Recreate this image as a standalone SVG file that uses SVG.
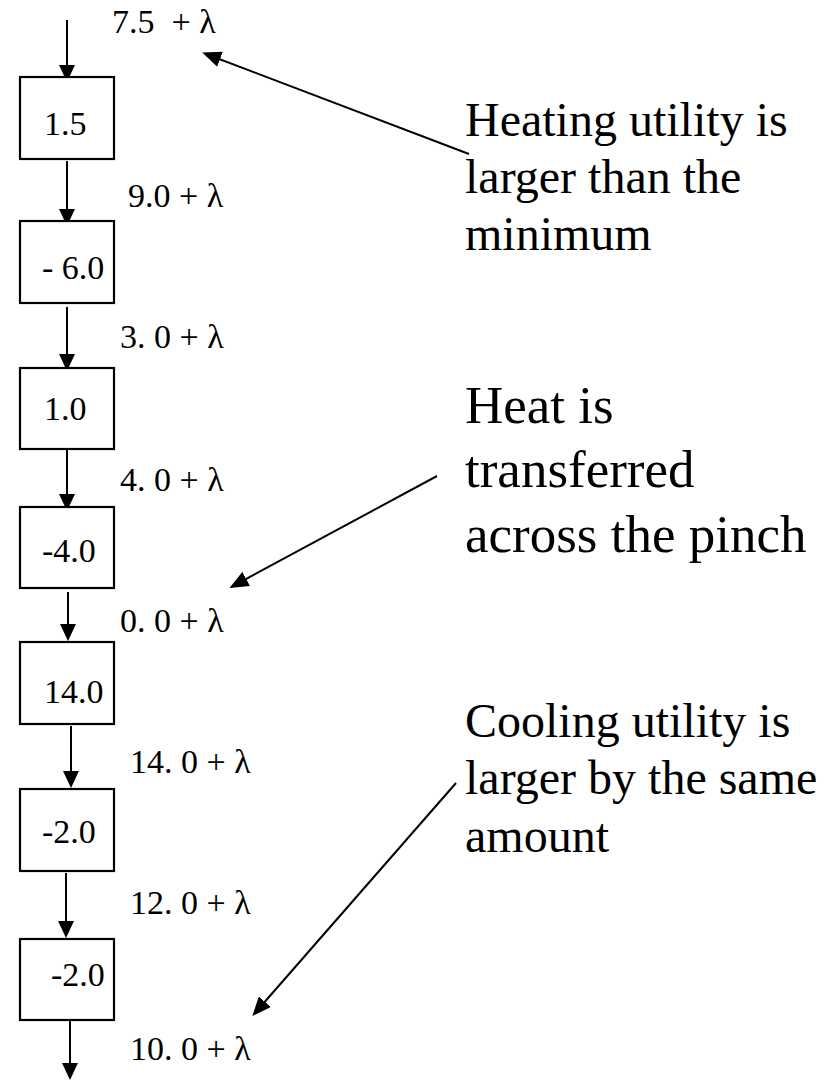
<svg xmlns="http://www.w3.org/2000/svg" width="838" height="1080" viewBox="0 0 838 1080">
<style>
  .box { fill: #fff; stroke: #000; stroke-width: 2.2; }
  .nt { font-family: "Liberation Serif", "Times New Roman", serif; font-size: 34px; fill: #000; white-space: pre; }
  .big { font-family: "Liberation Serif", "Times New Roman", serif; font-size: 48px; fill: #000; }
  .big2 { font-family: "Liberation Serif", "Times New Roman", serif; font-size: 53px; fill: #000; }
  .flow { stroke: #000; stroke-width: 2; fill: none; marker-end: url(#ah); }
  .ptr { stroke: #000; stroke-width: 2; fill: none; marker-end: url(#ah2); }
</style>
<defs>
  <marker id="ah" markerUnits="userSpaceOnUse" markerWidth="17" markerHeight="16" refX="13" refY="8" orient="auto" viewBox="0 0 17 16">
    <path d="M0,0 L17,8 L0,16 z" fill="#000"/>
  </marker>
  <marker id="ah2" markerUnits="userSpaceOnUse" markerWidth="19" markerHeight="16" refX="15" refY="8" orient="auto" viewBox="0 0 19 16">
    <path d="M0,0 L19,8 L0,16 z" fill="#000"/>
  </marker>
</defs>
<rect width="838" height="1080" fill="#fff"/>

<g id="connectors">
  <line class="flow" x1="67" y1="20" x2="67" y2="78"/>
  <line class="flow" x1="67" y1="161" x2="67" y2="222"/>
  <line class="flow" x1="67" y1="307" x2="67" y2="367"/>
  <line class="flow" x1="67" y1="450" x2="67" y2="507"/>
  <line class="flow" x1="68" y1="592" x2="68" y2="637"/>
  <line class="flow" x1="71" y1="726" x2="71" y2="784"/>
  <line class="flow" x1="66" y1="873" x2="66" y2="934"/>
  <line class="flow" x1="70" y1="1021" x2="70" y2="1076"/>
  <line class="ptr" x1="469" y1="154" x2="206" y2="54"/>
  <line class="ptr" x1="437" y1="476" x2="233" y2="586"/>
  <line class="ptr" x1="456" y1="783" x2="255" y2="1013"/>
</g>

<g id="n1"><rect class="box" x="20" y="77" width="94" height="82"/><text class="nt" x="44" y="135">1.5</text></g>
<g id="n2"><rect class="box" x="20" y="221" width="94" height="82"/><text class="nt" x="42" y="279">- 6.0</text></g>
<g id="n3"><rect class="box" x="20" y="368" width="94" height="81"/><text class="nt" x="44" y="420">1.0</text></g>
<g id="n4"><rect class="box" x="20" y="507" width="94" height="81"/><text class="nt" x="42" y="562">-4.0</text></g>
<g id="n5"><rect class="box" x="20" y="642" width="94" height="82"/><text class="nt" x="44" y="703">14.0</text></g>
<g id="n6"><rect class="box" x="20" y="789" width="94" height="82"/><text class="nt" x="42" y="843">-2.0</text></g>
<g id="n7"><rect class="box" x="20" y="939" width="94" height="81"/><text class="nt" x="51" y="986">-2.0</text></g>

<g id="flow-labels">
  <text class="nt" x="112" y="33">7.5  + λ</text>
  <text class="nt" x="128" y="207">9.0 + λ</text>
  <text class="nt" x="120" y="348">3. 0 + λ</text>
  <text class="nt" x="120" y="491">4. 0 + λ</text>
  <text class="nt" x="120" y="632">0. 0 + λ</text>
  <text class="nt" x="130" y="773">14. 0 + λ</text>
  <text class="nt" x="130" y="914">12. 0 + λ</text>
  <text class="nt" x="130" y="1060">10. 0 + λ</text>
</g>

<g id="note-heating">
  <text class="big" x="465" y="136">Heating utility is</text>
  <text class="big" x="465" y="193">larger than the</text>
  <text class="big" x="465" y="250">minimum</text>
</g>
<g id="note-pinch">
  <text class="big2" x="465" y="423">Heat is</text>
  <text class="big2" x="465" y="487">transferred</text>
  <text class="big2" x="465" y="552">across the pinch</text>
</g>
<g id="note-cooling">
  <text class="big" x="465" y="737">Cooling utility is</text>
  <text class="big" x="465" y="794">larger by the same</text>
  <text class="big" x="465" y="852">amount</text>
</g>
</svg>
